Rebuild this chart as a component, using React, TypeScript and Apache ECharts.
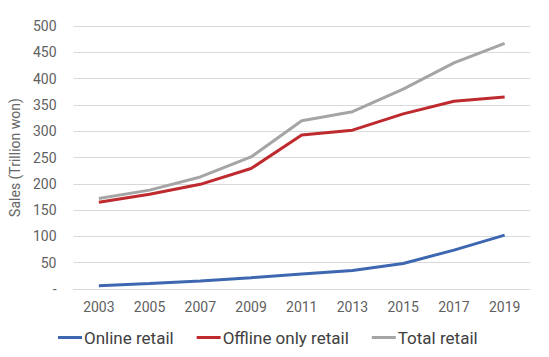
import React, { useEffect, useRef } from "react";
import * as echarts from "echarts";

const years = ["2003", "2005", "2007", "2009", "2011", "2013", "2015", "2017", "2019"];
const online = [6.3, 10.5, 15, 21.5, 28.5, 35, 48.5, 74, 102.5];
const offline = [165, 180, 199, 229, 293, 302, 333, 357, 365];
const total = [172, 188, 213, 251, 320, 337, 380, 430, 467];
const yTicks = [0, 50, 100, 150, 200, 250, 300, 350, 400, 450, 500];

const FONT = "Roboto, 'Noto Sans', sans-serif";

export default function App() {
  const ref = useRef<HTMLDivElement>(null);
  useEffect(() => {
    if (!ref.current) return;
    const chart = echarts.init(ref.current, undefined, { renderer: "svg" });
    const lineSeries = (name: string, data: number[], color: string) => ({
      name,
      type: "line",
      data,
      symbol: "none",
      lineStyle: { color, width: 3 },
      itemStyle: { color },
    });
    chart.setOption({
      animation: false,
      backgroundColor: "#ffffff",
      textStyle: { fontFamily: FONT },
      grid: { left: 72, right: 19, top: 26, bottom: 68 },
      xAxis: {
        type: "category",
        data: years,
        boundaryGap: true,
        axisLine: { show: true, lineStyle: { color: "#d9d9d9", width: 1 } },
        axisTick: { show: false },
        axisLabel: { color: "#5f5f5f", fontSize: 14, margin: 11, fontFamily: FONT },
      },
      yAxis: {
        type: "value",
        min: yTicks[0],
        max: yTicks[yTicks.length - 1],
        interval: 50,
        name: "Sales (Trillion won)",
        nameLocation: "middle",
        nameGap: 48,
        nameTextStyle: { color: "#666666", fontSize: 14, fontFamily: FONT },
        axisLine: { show: false },
        axisTick: { show: false },
        splitLine: { lineStyle: { color: "#d9d9d9", width: 1 } },
        axisLabel: {
          color: "#5f5f5f",
          fontSize: 14,
          margin: 17,
          fontFamily: FONT,
          formatter: (v: number) => (v === 0 ? "-" : String(v)),
        },
      },
      legend: {
        bottom: 11,
        left: 58,
        padding: 0,
        itemWidth: 24,
        itemHeight: 3,
        itemGap: 23,
        icon: "rect",
        textStyle: { color: "#404040", fontSize: 17, fontFamily: FONT, padding: [0, 0, 0, -3] },
        data: ["Online retail", "Offline only retail", "Total retail"],
      },
      series: [
        lineSeries("Online retail", online, "#3e67b1"),
        lineSeries("Offline only retail", offline, "#be2a2e"),
        lineSeries("Total retail", total, "#a5a5a5"),
      ],
    });
    return () => chart.dispose();
  }, []);
  return (
    <div
      ref={ref}
      style={{ position: "absolute", left: 0, top: 0, width: 549, height: 357 }}
    />
  );
}
